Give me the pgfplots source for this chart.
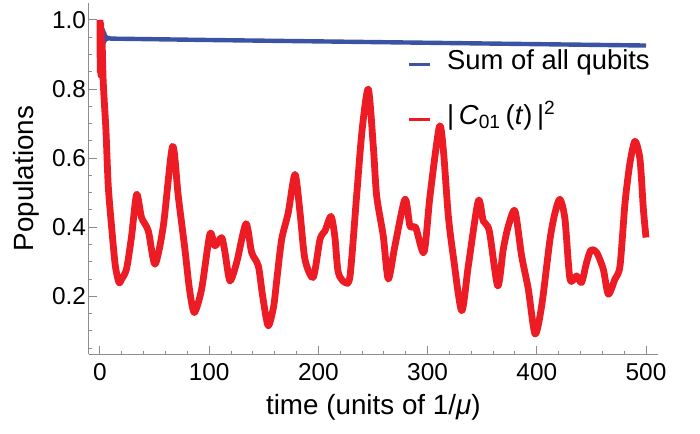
\documentclass[border=0pt]{standalone}
\usepackage{fontspec}
\setmainfont{Liberation Sans}
\usepackage{pgfplots}
\pgfplotsset{compat=1.18}
\definecolor{qblue}{RGB}{58,83,164}
\definecolor{qred}{RGB}{237,28,36}
\definecolor{axgray}{RGB}{140,140,140}

\begin{document}
\begin{tikzpicture}
\begin{axis}[
  scale only axis,
  width=284.65pt, height=175.8pt,
  xmin=-10.3, xmax=511, ymin=0.032, ymax=1.05,
  axis lines=left,
  axis line style={-, draw=axgray, line width=0.5pt},
  every tick/.style={draw=axgray, line width=0.5pt},
  tick align=inside,
  major tick length=4pt, minor tick length=1.7pt,
  xtick={0,100,200,300,400,500},
  minor xtick={20,40,60,80,120,140,160,180,220,240,260,280,320,340,360,380,420,440,460,480},
  ytick={0.2,0.4,0.6,0.8,1.0},
  minor ytick={0.05,0.1,0.15,0.25,0.3,0.35,0.45,0.5,0.55,0.65,0.7,0.75,0.85,0.9,0.95},
  /pgf/number format/assume math mode=true,
  xticklabel style={font=\fontsize{12.2}{14}\selectfont, yshift=-1.2pt},
  yticklabel style={font=\fontsize{12.2}{14}\selectfont, xshift=2.2pt,
    /pgf/number format/.cd, fixed, fixed zerofill, precision=1},
  xlabel={time (units of 1/\textit{μ})},
  ylabel={Populations},
  xlabel style={at={(axis description cs:0.5,-0.1726)}, anchor=base,
    font=\fontsize{13.9}{16}\selectfont},
  ylabel style={at={(axis description cs:-0.0978,0.5)}, rotate=0, anchor=base,
    font=\fontsize{13.9}{16}\selectfont},
  legend cell align=left,
  legend image code/.code={\draw[#1, line width=1.9pt] (0pt,0pt) -- (10.5pt,0pt);},
  legend style={at={(0.559,0.746)}, anchor=west, draw=none, fill=none,
    inner sep=0pt, column sep=7.5pt, row sep=16.1pt,
    font=\fontsize{13.7}{16}\selectfont,
    nodes={inner sep=0pt, text height=8.2pt, text depth=3.2pt}},
]
% sum of all qubit populations
\addplot[qblue, line width=2.2pt, line join=round] coordinates {
  (0,1.0) (0.5,0.97) (1,0.99) (1.5,0.95) (2,0.975) (2.5,0.94) (3,0.97)
  (3.5,0.935) (4,0.962) (4.5,0.94) (5,0.955) (5.5,0.943) (6,0.951)
  (7,0.945) (8,0.948) (10,0.946) (100,0.942) (200,0.938) (300,0.934)
  (400,0.930) (500,0.926)
};
\addlegendentry{Sum of all qubits}
% |C01(t)|^2
\addplot[qred, line width=3.4pt, line join=round, smooth, tension=0.45] coordinates {
  (0,1.0) (0.3,0.85) (0.6,0.99) (0.9,0.84) (1.2,0.97) (1.5,0.86) (2,0.93)
  (3,0.82) (5.5,0.68) (7.6,0.52) (10.7,0.40) (14,0.29) (17.4,0.24) (20,0.25)
  (24.4,0.28) (29,0.375) (33.6,0.495) (38.1,0.428) (44.3,0.389) (50.4,0.293)
  (58,0.403) (66.5,0.634) (71.7,0.49) (77.8,0.336) (82,0.22) (86.4,0.153)
  (93.1,0.221) (100.7,0.38) (105.3,0.346) (111.4,0.37) (114.5,0.327)
  (119,0.245) (125.2,0.298) (133.7,0.41) (138.9,0.327) (145,0.288)
  (149,0.2) (154,0.115) (159,0.17) (162,0.25) (166.4,0.365) (172.4,0.442)
  (178.6,0.553) (183.2,0.442) (187.7,0.307) (195.3,0.255) (201.5,0.365)
  (206,0.389) (211.5,0.431) (215,0.375) (218.2,0.269) (224.4,0.24)
  (229,0.259) (235,0.49) (240,0.68) (245.7,0.80) (250.3,0.634) (253.4,0.49)
  (259.4,0.375) (264,0.25) (270.1,0.346) (279.3,0.481) (283.9,0.403)
  (289.1,0.399) (296.7,0.327) (302.2,0.49) (310.7,0.69) (314.4,0.625)
  (319,0.432) (323.5,0.317) (331.2,0.158) (337.3,0.288) (346.4,0.476)
  (351,0.418) (356.5,0.389) (364.2,0.23) (369.3,0.336) (373.9,0.403)
  (380,0.447) (386.1,0.317) (392.2,0.221) (398.4,0.091) (404.5,0.173)
  (412.1,0.365) (416.7,0.442) (421.2,0.481) (425.8,0.423) (430.4,0.25)
  (436.5,0.259) (441,0.24) (445.6,0.298) (449.6,0.334) (454.8,0.327)
  (460.9,0.278) (465.5,0.206) (471.6,0.25) (476.2,0.288) (480.8,0.471)
  (485.3,0.586) (489.9,0.649) (494.5,0.596) (497.6,0.452) (500,0.37)
};
\addlegendentry{|\,\textit{C}\textsubscript{01}\,(\textit{t})\,|\textsuperscript{2}}
\coordinate (o) at (rel axis cs:0,0);
\end{axis}
\pgfresetboundingbox
\path[use as bounding box] ([shift={(-44.35pt,-39.35pt)}]o) rectangle ([shift={(305.65pt,177.15pt)}]o);
\end{tikzpicture}
\end{document}
